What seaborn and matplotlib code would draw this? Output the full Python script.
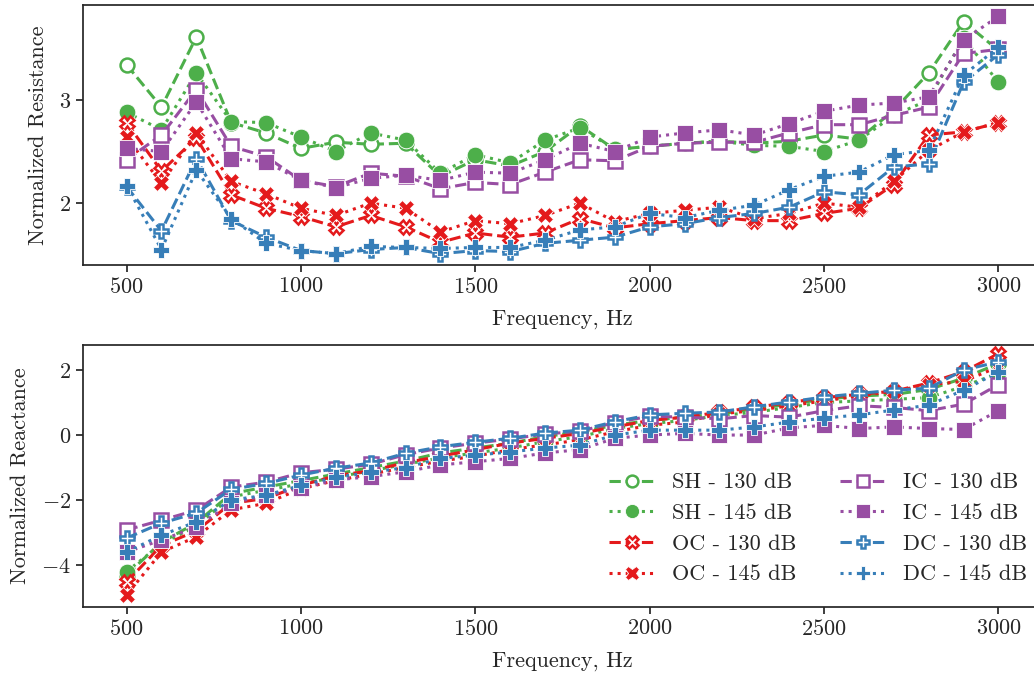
import matplotlib
matplotlib.use("Agg")
import matplotlib.pyplot as plt
import numpy as np
import pandas as pd
import seaborn as sns

# frequency points, Hz
freqs = list(range(500, 3001, 100))

# normalized resistance (top panel)
res_sh130 = [3.34, 2.93, 3.61, 2.78, 2.68, 2.53, 2.59, 2.57, 2.58, 2.26, 2.42, 2.36, 2.50,
             2.75, 2.52, 2.55, 2.58, 2.60, 2.58, 2.60, 2.66, 2.62, 2.90, 3.26, 3.76, 3.48]
res_sh145 = [2.88, 2.71, 3.26, 2.79, 2.78, 2.64, 2.50, 2.68, 2.61, 2.29, 2.47, 2.39, 2.61,
             2.73, 2.52, 2.55, 2.58, 2.60, 2.56, 2.55, 2.50, 2.61, 2.85, 3.00, 3.60, 3.17]
res_oc130 = [2.78, 2.31, 2.63, 2.08, 1.95, 1.87, 1.77, 1.88, 1.77, 1.62, 1.71, 1.67, 1.71,
             1.85, 1.76, 1.80, 1.83, 1.86, 1.83, 1.83, 1.90, 1.95, 2.18, 2.66, 2.69, 2.78]
res_oc145 = [2.64, 2.19, 2.68, 2.21, 2.09, 1.95, 1.88, 2.00, 1.95, 1.72, 1.83, 1.80, 1.88,
             2.00, 1.82, 1.90, 1.93, 1.96, 1.85, 1.90, 2.00, 1.96, 2.21, 2.51, 2.69, 2.78]
res_ic130 = [2.42, 2.66, 3.10, 2.55, 2.45, 2.22, 2.16, 2.29, 2.26, 2.14, 2.20, 2.18, 2.30,
             2.42, 2.41, 2.55, 2.58, 2.59, 2.59, 2.68, 2.76, 2.76, 2.85, 2.93, 3.45, 3.49]
res_ic145 = [2.53, 2.50, 2.98, 2.43, 2.40, 2.22, 2.15, 2.24, 2.27, 2.22, 2.30, 2.29, 2.42,
             2.58, 2.50, 2.64, 2.68, 2.71, 2.66, 2.77, 2.89, 2.95, 2.97, 3.03, 3.58, 3.81]
res_dc130 = [2.16, 1.73, 2.43, 1.83, 1.67, 1.54, 1.51, 1.55, 1.57, 1.51, 1.54, 1.53, 1.61,
             1.64, 1.67, 1.77, 1.80, 1.86, 1.90, 1.96, 2.11, 2.08, 2.35, 2.38, 3.17, 3.44]
res_dc145 = [2.17, 1.55, 2.32, 1.85, 1.61, 1.54, 1.51, 1.58, 1.57, 1.56, 1.57, 1.57, 1.64,
             1.74, 1.77, 1.90, 1.86, 1.93, 1.98, 2.13, 2.26, 2.30, 2.47, 2.51, 3.24, 3.51]

# normalized reactance (bottom panel)
rea_sh130 = [-4.30, -3.30, -2.70, -1.80, -1.60, -1.40, -1.20, -1.00, -0.80, -0.55, -0.40, -0.25, -0.05,
             0.10, 0.30, 0.45, 0.55, 0.65, 0.80, 0.95, 1.10, 1.20, 1.25, 1.40, 1.75, 2.20]
rea_sh145 = [-4.20, -3.35, -2.80, -1.90, -1.70, -1.50, -1.30, -1.10, -0.90, -0.70, -0.55, -0.40, -0.20,
             -0.05, 0.20, 0.35, 0.45, 0.60, 0.70, 0.85, 1.00, 1.05, 1.10, 1.15, 1.50, 1.90]
rea_oc130 = [-4.52, -3.40, -2.95, -2.10, -1.95, -1.55, -1.25, -1.10, -0.85, -0.65, -0.45, -0.25, -0.10,
             0.05, 0.25, 0.45, 0.55, 0.70, 0.85, 1.00, 1.15, 1.25, 1.35, 1.60, 1.95, 2.50]
rea_oc145 = [-4.92, -3.60, -3.13, -2.30, -2.10, -1.65, -1.40, -1.20, -1.00, -0.80, -0.65, -0.45, -0.30,
             -0.15, 0.10, 0.30, 0.40, 0.65, 0.75, 0.90, 1.05, 1.20, 1.35, 1.55, 1.65, 2.10]
rea_ic130 = [-2.92, -2.62, -2.31, -1.60, -1.45, -1.16, -1.05, -0.90, -0.60, -0.40, -0.25, -0.12, 0.03,
             0.12, 0.38, 0.58, 0.55, 0.50, 0.60, 0.55, 0.75, 0.90, 0.85, 0.75, 0.95, 1.55]
rea_ic145 = [-3.60, -3.23, -2.83, -2.10, -1.85, -1.64, -1.38, -1.28, -1.13, -0.92, -0.82, -0.72, -0.55,
             -0.45, -0.10, 0.00, 0.05, 0.00, 0.00, 0.22, 0.30, 0.20, 0.25, 0.20, 0.17, 0.75]
rea_dc130 = [-3.17, -2.71, -2.40, -1.67, -1.49, -1.23, -1.02, -0.86, -0.56, -0.36, -0.22, -0.10, 0.06,
             0.15, 0.41, 0.62, 0.67, 0.71, 0.87, 1.02, 1.17, 1.28, 1.38, 1.44, 2.00, 2.25]
rea_dc145 = [-3.60, -3.08, -2.67, -2.00, -1.85, -1.55, -1.30, -1.15, -1.00, -0.72, -0.62, -0.52, -0.40,
             -0.31, 0.00, 0.15, 0.15, 0.15, 0.25, 0.40, 0.52, 0.62, 0.77, 0.92, 1.38, 1.94]

labels = ["SH - 130 dB", "SH - 145 dB", "OC - 130 dB", "OC - 145 dB",
          "IC - 130 dB", "IC - 145 dB", "DC - 130 dB", "DC - 145 dB"]
resistance = [res_sh130, res_sh145, res_oc130, res_oc145,
              res_ic130, res_ic145, res_dc130, res_dc145]
reactance = [rea_sh130, rea_sh145, rea_oc130, rea_oc145,
             rea_ic130, rea_ic145, rea_dc130, rea_dc145]

pal = sns.color_palette("Set1")
colors = [pal[2], pal[2], pal[0], pal[0], pal[3], pal[3], pal[1], pal[1]]
markers = ["o", "o", "X", "X", "s", "s", "P", "P"]
open_marker = [True, False] * 4

sns.set_style("ticks")
plt.rcParams["font.family"] = ["cmr10", "DejaVu Serif"]
plt.rcParams["mathtext.fontset"] = "cm"
plt.rcParams["axes.formatter.use_mathtext"] = True
plt.rcParams["font.size"] = 16

fig = plt.figure(figsize=(10.34, 6.75), dpi=100)
ax1 = fig.add_axes([83 / 1034, 1 - 265 / 675, 959 / 1034, 260 / 675])
ax2 = fig.add_axes([83 / 1034, 1 - 607 / 675, 959 / 1034, 262 / 675])


def draw(ax, series):
    for lab, vals, col, mk, op in zip(labels, series, colors, markers, open_marker):
        df = pd.DataFrame({"freq": freqs, "val": vals})
        kw = dict(color=col, marker=mk, linewidth=2.2,
                  linestyle="--" if op else ":")
        if op:
            kw.update(markersize=10, markerfacecolor="white", markeredgecolor=col,
                      markeredgewidth=1.8)
        else:
            kw.update(markersize=12, markerfacecolor=col, markeredgecolor="white",
                      markeredgewidth=0.6)
        sns.lineplot(data=df, x="freq", y="val", ax=ax, label=lab, **kw)


draw(ax1, resistance)
draw(ax2, reactance)

for ax in (ax1, ax2):
    ax.set_xlim(375, 3125)
    ax.set_xticks([500, 1000, 1500, 2000, 2500, 3000])
    ax.set_xlabel("Frequency, Hz", fontsize=16, labelpad=9)
    ax.tick_params(labelsize=16, width=1.25, length=5)
    for s in ax.spines.values():
        s.set_linewidth(1.25)

ax1.set_ylim(1.40, 3.92)
ax1.set_yticks([2, 3])
ax1.set_ylabel("Normalized Resistance", fontsize=16, labelpad=8)
ax1.get_legend().remove()

ax2.set_ylim(-5.29, 2.77)
ax2.set_yticks([-4, -2, 0, 2])
ax2.set_ylabel("Normalized Reactance", fontsize=16, labelpad=8)
ax2.legend(ncol=2, loc="lower right", bbox_to_anchor=(1.005, 0.01),
           frameon=False, fontsize=16, handlelength=2.0, columnspacing=2.0,
           labelspacing=0.5, markerscale=0.85)

fig.savefig("out.png", dpi=100)
